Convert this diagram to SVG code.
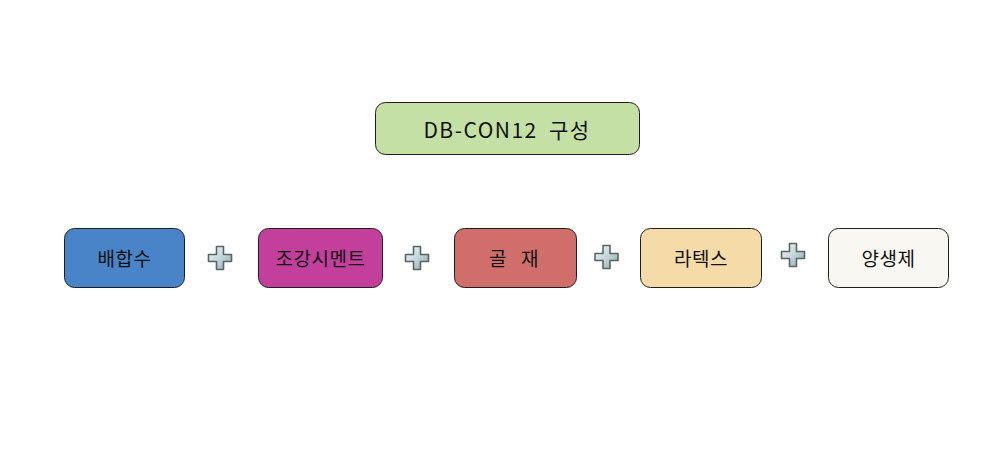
<svg xmlns="http://www.w3.org/2000/svg" width="1005" height="451" viewBox="0 0 1005 451">
<style>
.box{stroke:#1e1e1e;stroke-width:1}
.lbl{font-family:"Noto Sans CJK KR","Noto Sans",sans-serif;font-size:19px;letter-spacing:0.5px;fill:#111;text-anchor:middle;dominant-baseline:central;white-space:pre}
.ttl{font-family:"Noto Sans CJK KR","Noto Sans",sans-serif;font-size:21px;letter-spacing:1.5px;word-spacing:5px;fill:#111;text-anchor:middle;dominant-baseline:central;white-space:pre}
.plus{fill:url(#pg);stroke:#5a6468;stroke-width:1.6;stroke-linejoin:round}
</style>
<defs>
<linearGradient id="pg" x1="0" y1="0" x2="1" y2="1">
<stop offset="0" stop-color="#f2f8f8"/>
<stop offset="0.5" stop-color="#c4d6da"/>
<stop offset="1" stop-color="#8ea4aa"/>
</linearGradient>
<path id="cross" d="M-3.5,-11.5 H3.5 V-3.5 H11.5 V3.5 H3.5 V11.5 H-3.5 V3.5 H-11.5 V-3.5 H-3.5 Z"/>
</defs>
<rect width="1005" height="451" fill="#ffffff"/>
<g id="title">
<rect class="box" x="375.5" y="102.5" width="264" height="52" rx="10" fill="#c5e0a5"/>
<text class="ttl" x="507" y="129">DB-CON12 구성</text>
</g>
<g id="n1">
<rect class="box" x="64.5" y="228.5" width="120" height="59" rx="10" fill="#4a84c8"/>
<text class="lbl" x="124.5" y="257">배합수</text>
</g>
<g id="n2">
<rect class="box" x="258.5" y="228.5" width="124" height="59" rx="10" fill="#c23f9c"/>
<text class="lbl" x="320.5" y="257">조강시멘트</text>
</g>
<g id="n3">
<rect class="box" x="454.5" y="228.5" width="122" height="59" rx="10" fill="#d06e6c"/>
<text class="lbl" x="514" y="257">골   재</text>
</g>
<g id="n4">
<rect class="box" x="640.5" y="228.5" width="121" height="59" rx="10" fill="#f5dba8"/>
<text class="lbl" x="701" y="257">라텍스</text>
</g>
<g id="n5">
<rect class="box" x="828.5" y="228.5" width="120" height="59" rx="10" fill="#f8f7f2"/>
<text class="lbl" x="888.5" y="257">양생제</text>
</g>
<g id="connectors">
<use href="#cross" class="plus" transform="translate(220,258)"/>
<use href="#cross" class="plus" transform="translate(417,258)"/>
<use href="#cross" class="plus" transform="translate(606.5,257)"/>
<use href="#cross" class="plus" transform="translate(793,255)"/>
</g>
</svg>
